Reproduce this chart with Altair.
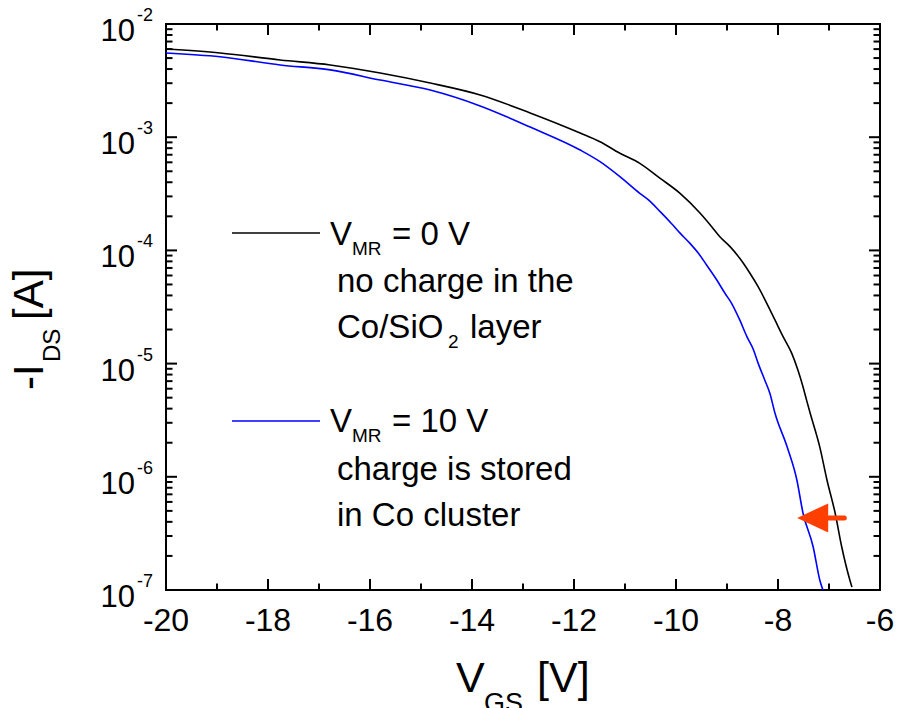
import altair as alt
import pandas as pd

# Transfer characteristics: gate voltage V_GS [V] and drain current -I_DS [A]
vgs_0v = [-20.00, -18.94, -17.76, -16.78, -15.80, -14.82, -13.84, -12.86, -11.88,
          -11.49, -11.10, -10.71, -10.31, -9.92, -9.53, -9.30, -9.14, -8.94, -8.75,
          -8.55, -8.39, -8.22, -8.06, -7.90, -7.73, -7.61, -7.51, -7.44, -7.37,
          -7.18, -7.04, -6.88, -6.75, -6.59, -6.55]
ids_0v = [6.01e-3, 5.55e-3, 4.81e-3, 4.35e-3, 3.69e-3, 3.01e-3, 2.36e-3, 1.64e-3,
          1.09e-3, 9.12e-4, 7.21e-4, 5.88e-4, 4.33e-4, 3.19e-4, 2.14e-4, 1.62e-4,
          1.32e-4, 1.08e-4, 8.51e-5, 6.28e-5, 4.78e-5, 3.41e-5, 2.43e-5, 1.73e-5,
          1.23e-5, 8.77e-6, 6.25e-6, 4.76e-6, 3.66e-6, 1.83e-6, 9.37e-7, 4.79e-7,
          2.40e-7, 1.22e-7, 1.06e-7]

vgs_10v = [-20.00, -18.94, -17.76, -16.78, -15.80, -14.82, -13.84, -12.86, -11.88,
           -11.49, -11.10, -10.71, -10.54, -10.31, -10.09, -9.92, -9.73, -9.56, -9.40,
           -9.20, -9.04, -8.91, -8.75, -8.61, -8.48, -8.39, -8.26, -8.16, -8.06,
           -7.82, -7.63, -7.51, -7.31, -7.18, -7.12]
ids_10v = [5.55e-3, 5.14e-3, 4.35e-3, 3.93e-3, 3.20e-3, 2.61e-3, 1.89e-3, 1.23e-3,
           7.71e-4, 6.08e-4, 4.48e-4, 3.19e-4, 2.79e-4, 2.20e-4, 1.73e-4, 1.42e-4,
           1.16e-4, 9.42e-5, 7.43e-5, 5.48e-5, 4.18e-5, 3.41e-5, 2.43e-5, 1.73e-5,
           1.32e-5, 1.01e-5, 7.16e-6, 5.47e-6, 3.66e-6, 1.83e-6, 9.37e-7, 4.79e-7,
           2.40e-7, 1.22e-7, 1.00e-7]

series_names = ["0 V", "10 V"]
series_colors = ["#000000", "#0000ff"]

# Axis ticks
x_major = [-20, -18, -16, -14, -12, -10, -8, -6]
x_minor = [-19, -17, -15, -13, -11, -9, -7]
decades = [-7, -6, -5, -4, -3, -2]
mantissas = [2, 3, 4, 5, 6, 7, 8, 9]

# Key entries (sample line span and level) and threshold-shift arrow
legend_span = [-18.706, -16.98]
legend_levels = [1.426e-4, 3.11e-6]
arrow_head_v = [-7.32]
arrow_shaft_v = [-7.05, -6.70]
arrow_level = [4.33e-7]

FONT = "Liberation Sans"
ARROW = "#ff3f00"
W, H = 714, 566
MAJ, MIN = 11, 6.5

xs = alt.Scale(domain=[-20, -6], nice=False, zero=False)
ys = alt.Scale(type="log", domain=[1e-7, 1e-2], nice=False)


def X(field):
    return alt.X(field, type="quantitative", scale=xs, axis=None)


def Y(field):
    return alt.Y(field, type="quantitative", scale=ys, axis=None)


color_enc = alt.Color("series:N", scale=alt.Scale(domain=series_names, range=series_colors),
                      legend=None)

curves = pd.concat([
    pd.DataFrame({"vgs": vgs_0v, "ids": ids_0v, "series": series_names[0]}),
    pd.DataFrame({"vgs": vgs_10v, "ids": ids_10v, "series": series_names[1]}),
], ignore_index=True)

lines = alt.Chart(curves).mark_line(strokeWidth=1.6, interpolate="monotone", clip=True).encode(
    x=X("vgs"), y=Y("ids"), color=color_enc
)

# Inward ticks on all four sides
xmaj = pd.DataFrame({"v": x_major})
xmin = pd.DataFrame({"v": x_minor})
ymaj = pd.DataFrame({"v": [10.0 ** d for d in decades]})
ymin = pd.DataFrame({"v": [m * 10.0 ** d for d in decades[:-1] for m in mantissas]})


def xticks(df, length):
    base = alt.Chart(df).mark_rule(color="black", strokeWidth=2)
    return [
        base.encode(x=X("v"), y=alt.value(H), y2=alt.value(H - length)),
        base.encode(x=X("v"), y=alt.value(0), y2=alt.value(length)),
    ]


def yticks(df, length):
    base = alt.Chart(df).mark_rule(color="black", strokeWidth=2)
    return [
        base.encode(y=Y("v"), x=alt.value(0), x2=alt.value(length)),
        base.encode(y=Y("v"), x=alt.value(W), x2=alt.value(W - length)),
    ]


ticks = xticks(xmaj, MAJ) + xticks(xmin, MIN) + yticks(ymaj, MAJ) + yticks(ymin, MIN)

# Tick labels
xlab_df = pd.DataFrame({"v": x_major, "lab": [str(v) for v in x_major]})
xlabels = alt.Chart(xlab_df).mark_text(font=FONT, fontSize=32, align="center",
                                       baseline="alphabetic").encode(
    x=X("v"), y=alt.value(H + 41), text="lab:N")

ylab_df = pd.DataFrame({"v": [10.0 ** d for d in decades], "exp": [str(d) for d in decades]})
ylabels_base = alt.Chart(ylab_df).mark_text(font=FONT, fontSize=31, align="right",
                                            baseline="alphabetic", dx=-31, dy=17,
                                            text="10").encode(x=alt.value(0), y=Y("v"))
ylabels_exp = alt.Chart(ylab_df).mark_text(font=FONT, fontSize=18, align="left",
                                           baseline="alphabetic", dx=-29, dy=-3).encode(
    x=alt.value(0), y=Y("v"), text="exp:N")

# Key
legend_df = pd.DataFrame({"x1": [legend_span[0]] * 2, "x2": [legend_span[1]] * 2,
                          "i": legend_levels, "series": series_names})
legend_lines = alt.Chart(legend_df).mark_rule(strokeWidth=1.6).encode(
    x=X("x1"), x2="x2", y=Y("i"), color=color_enc)


def note(level, text, dx, dy, size):
    df = pd.DataFrame({"x": [legend_span[1]], "i": [level]})
    return alt.Chart(df).mark_text(text=text, font=FONT, fontSize=size, align="left",
                                   baseline="alphabetic", dx=dx, dy=dy,
                                   color="black").encode(x=X("x"), y=Y("i"))


legend_texts = [
    note(legend_levels[0], "V", 10, 12, 33),
    note(legend_levels[0], "MR", 32, 22, 19),
    note(legend_levels[0], "= 0 V", 72, 12, 33),
    note(legend_levels[0], "no charge in the", 17, 59, 33),
    note(legend_levels[0], "Co/SiO", 17, 105, 33),
    note(legend_levels[0], "2", 128, 115, 19),
    note(legend_levels[0], "layer", 150, 105, 33),
    note(legend_levels[1], "V", 10, 11, 33),
    note(legend_levels[1], "MR", 32, 21, 19),
    note(legend_levels[1], "= 10 V", 72, 11, 33),
    note(legend_levels[1], "charge is stored", 17, 59, 33),
    note(legend_levels[1], "in Co cluster", 17, 105, 33),
]

# Arrow marking the threshold shift
arrow_head = alt.Chart(pd.DataFrame({"x": arrow_head_v, "i": arrow_level})).mark_point(
    shape="M-1,0L1,-0.94L1,0.94Z", size=961, filled=True, color=ARROW, opacity=1,
    strokeWidth=0).encode(x=X("x"), y=Y("i"))
arrow_shaft = alt.Chart(pd.DataFrame({"x": [arrow_shaft_v[0]], "x2": [arrow_shaft_v[1]],
                                      "i": arrow_level})).mark_rule(
    color=ARROW, strokeWidth=5, strokeCap="round").encode(x=X("x"), x2="x2", y=Y("i"))


# Axis titles with subscripts
def title_piece(text, x, y, size, angle=0):
    kw = dict(text=text, font=FONT, fontSize=size, align="left", baseline="alphabetic",
              color="black")
    if angle:
        kw["angle"] = angle
    return alt.Chart(pd.DataFrame({"a": [0]})).mark_text(**kw).encode(
        x=alt.value(x), y=alt.value(y))


titles = [
    title_piece("V", 290, 668, 43),
    title_piece("GS", 318, 688, 27),
    title_piece("[V]", 371, 668, 43),
    title_piece("-I", -123, 366, 42, 270),
    title_piece("DS", -106, 338, 24, 270),
    title_piece("[A]", -123, 296, 42, 270),
]

chart = alt.layer(
    lines, *ticks, xlabels, ylabels_base, ylabels_exp, legend_lines, *legend_texts,
    arrow_shaft, arrow_head, *titles
).properties(
    width=W, height=H,
    autosize=alt.AutoSizeParams(type="none"),
    padding={"left": 166, "top": 24, "right": 17, "bottom": 118},
    background="white",
).configure_view(stroke="black", strokeWidth=2)

chart.save("out.html", embed_options={"renderer": "svg", "actions": False})
